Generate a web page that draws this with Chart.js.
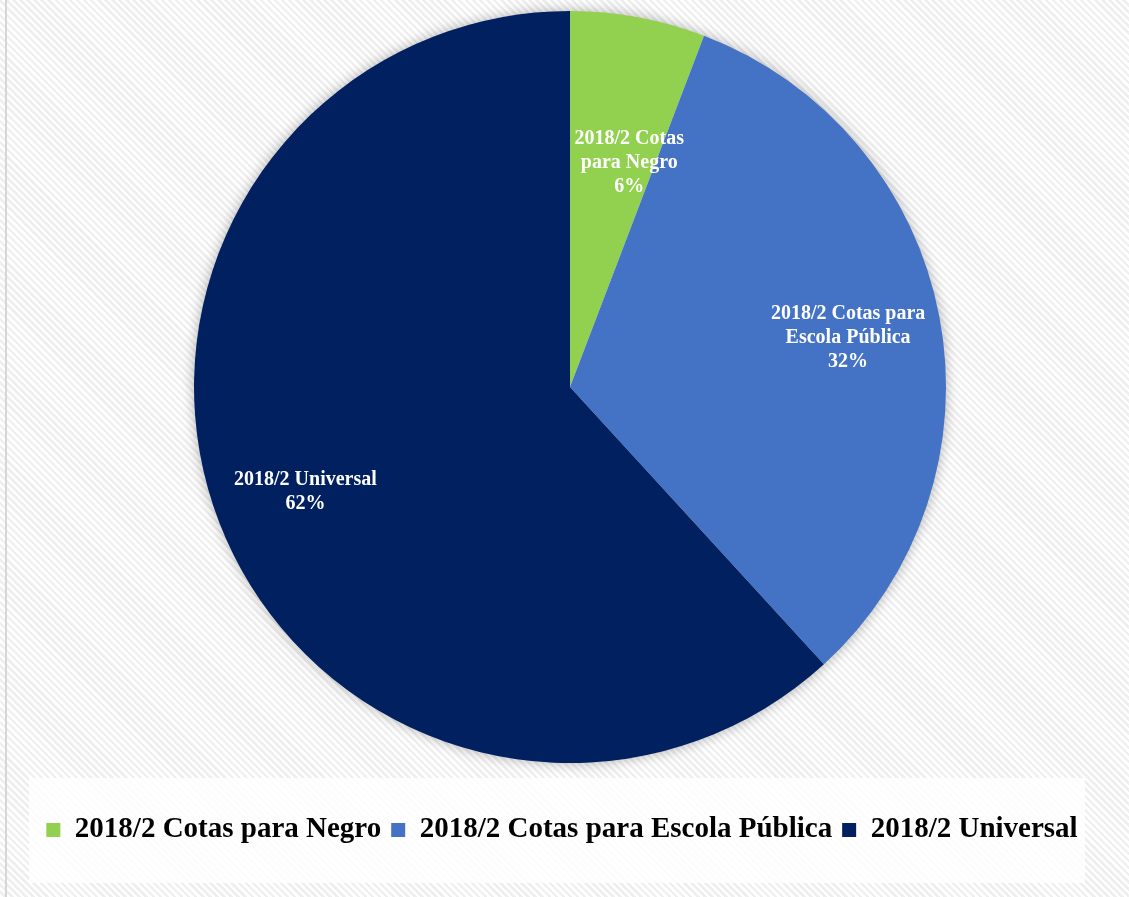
<!DOCTYPE html>
<html>
<head>
<meta charset="utf-8">
<script src="https://cdn.jsdelivr.net/npm/chart.js@4"></script>
<style>
    html, body { margin: 0; padding: 0; }
    body {
        width: 1129px; height: 897px; overflow: hidden; position: relative;
        background: repeating-linear-gradient(45deg, #ffffff 0px, #ffffff 2.5px, #efefef 2.5px, #efefef 5px);
    }
    #leftRule { position: absolute; left: 5px; top: 0; width: 2px; height: 897px; background: #d6d6d6; }
    #legendBox { position: absolute; left: 29px; top: 778px; width: 1056px; height: 105px; background: rgba(255,255,255,0.82); }
    #wrap { position: absolute; left: 0; top: 0; width: 1129px; height: 897px; }
</style>
</head>
<body>
<div id="leftRule"></div>
<div id="legendBox"></div>
<div id="wrap"><canvas id="pieChart"></canvas></div>
<script>
// ========================================================================
// 데이터
// ========================================================================
const categories = ['2018/2 Cotas para Negro', '2018/2 Cotas para Escola Pública', '2018/2 Universal'];
const shares = [5.8, 32.4, 61.8];   // 퍼센트
const sliceColors = ['#92D050', '#4472C4', '#002060'];
// 조각 위 레이블 (줄 단위, 퍼센트는 자동)
const labelLines = [
    ['2018/2 Cotas', 'para Negro'],
    ['2018/2 Cotas para', 'Escola Pública'],
    ['2018/2 Universal']
];

const serif = "'Liberation Serif', 'Times New Roman', serif";

// 파이 뒤 그림자
const pieShadow = {
    id: 'pieShadow',
    beforeDatasetsDraw(chart) {
        const arc = chart.getDatasetMeta(0).data[0];
        if (!arc) return;
        const { x, y, outerRadius } = arc.getProps(['x', 'y', 'outerRadius'], true);
        const ctx = chart.ctx;
        ctx.save();
        ctx.shadowColor = 'rgba(0,0,0,0.35)';
        ctx.shadowBlur = 14;
        ctx.fillStyle = '#ffffff';
        ctx.beginPath();
        ctx.arc(x, y, outerRadius - 1, 0, Math.PI * 2);
        ctx.fill();
        ctx.restore();
    }
};

// 범례를 조금 왼쪽으로
const legendShift = {
    id: 'legendShift',
    afterLayout(chart, args, opts) {
        if (!chart.legend) return;
        chart.legend.left += opts.dx;
        chart.legend.right += opts.dx;
    }
};

// 조각 레이블
const sliceLabels = {
    id: 'sliceLabels',
    afterDatasetsDraw(chart, args, opts) {
        const ctx = chart.ctx;
        const meta = chart.getDatasetMeta(0);
        ctx.save();
        ctx.font = 'bold ' + opts.size + 'px ' + serif;
        ctx.fillStyle = '#ffffff';
        ctx.textAlign = 'center';
        ctx.textBaseline = 'middle';
        meta.data.forEach((arc, i) => {
            const p = arc.getProps(['x', 'y', 'startAngle', 'endAngle', 'outerRadius'], true);
            const mid = (p.startAngle + p.endAngle) / 2;
            const r = p.outerRadius * opts.radius[i];
            const cx = p.x + Math.cos(mid) * r + opts.nudge[i][0];
            const cy = p.y + Math.sin(mid) * r + opts.nudge[i][1];
            const lines = labelLines[i].concat([Math.round(shares[i]) + '%']);
            const top = cy - (lines.length - 1) * opts.lineHeight / 2;
            lines.forEach((t, k) => ctx.fillText(t, cx, top + k * opts.lineHeight));
        });
        ctx.restore();
    }
};

new Chart(document.getElementById('pieChart'), {
    type: 'pie',
    data: {
        labels: categories,
        datasets: [{
            data: shares,
            backgroundColor: sliceColors,
            borderWidth: 0
        }]
    },
    options: {
        responsive: true,
        maintainAspectRatio: false,
        animation: false,
        layout: { padding: { top: 11, left: 11, right: 0, bottom: 42.6 } },
        plugins: {
            tooltip: { enabled: false },
            legend: {
                position: 'bottom',
                title: { display: true, text: '', font: { size: 12 }, padding: { top: 28, bottom: 0 } },
                labels: {
                    color: '#000000',
                    boxWidth: 14,
                    boxHeight: 14,
                    padding: 10,
                    font: { family: serif, size: 29, weight: 'bold' }
                }
            },
            legendShift: { dx: -8 },
            sliceLabels: {
                size: 20,
                lineHeight: 24,
                radius: [0.606, 0.753, 0.755],
                nudge: [[18, 0], [0, 4], [0, 2]]
            }
        }
    },
    plugins: [pieShadow, legendShift, sliceLabels]
});
</script>
</body>
</html>
